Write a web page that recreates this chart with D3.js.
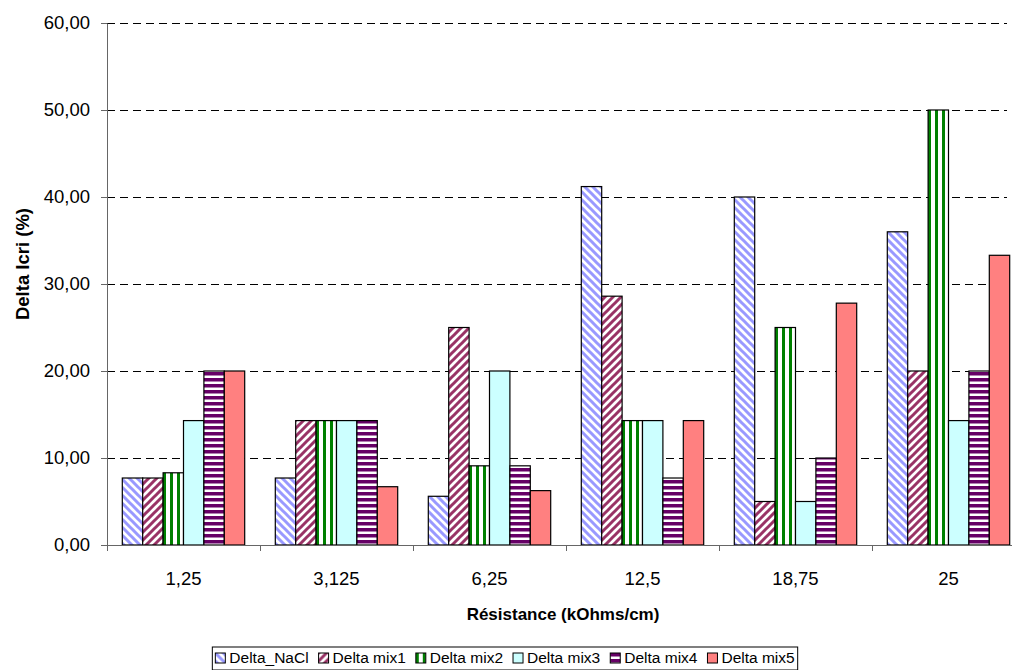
<!DOCTYPE html>
<html>
<head>
<meta charset="utf-8">
<script src="https://cdn.jsdelivr.net/npm/d3@7"></script>
<style>
  html, body { margin: 0; padding: 0; background: #fff; }
  svg { display: block; font-family: "Liberation Sans", Arial, sans-serif; }
</style>
</head>
<body>
<svg id="chart" width="1012" height="670"></svg>
<script>
// ---- data ----
const categories = ["1,25", "3,125", "6,25", "12,5", "18,75", "25"];
const seriesNames = ["Delta_NaCl", "Delta mix1", "Delta mix2", "Delta mix3", "Delta mix4", "Delta mix5"];
const deltaNaCl = [7.7, 7.7, 5.6, 41.2, 40.0, 36.0];
const deltaMix1 = [7.7, 14.3, 25.0, 28.6, 5.0, 20.0];
const deltaMix2 = [8.3, 14.3, 9.1, 14.3, 25.0, 50.0];
const deltaMix3 = [14.3, 14.3, 20.0, 14.3, 5.0, 14.3];
const deltaMix4 = [20.0, 14.3, 9.1, 7.7, 10.0, 20.0];
const deltaMix5 = [20.0, 6.7, 6.25, 14.3, 27.8, 33.3];
const yTicks = [0, 10, 20, 30, 40, 50, 60];
const seriesValues = [deltaNaCl, deltaMix1, deltaMix2, deltaMix3, deltaMix4, deltaMix5];

// ---- layout ----
const svg = d3.select("#chart");
const x0Left = 107, bandStep = 153;
const yBottom = 545, yTop = 23;
const gridRight = 1007;

const x0 = d3.scaleBand().domain(categories)
  .range([x0Left, x0Left + bandStep * categories.length]).padding(0);
const x1 = d3.scaleBand().domain(seriesNames)
  .range([0, x0.bandwidth()]).paddingInner(0).paddingOuter(0.75);
const y = d3.scaleLinear().domain([0, 60]).range([yBottom, yTop]);

// ---- patterns ----
const defs = svg.append("defs");
function diag(id, color, dir) {
  const p = defs.append("pattern").attr("id", id)
    .attr("patternUnits", "userSpaceOnUse").attr("width", 8).attr("height", 8);
  p.append("rect").attr("width", 8).attr("height", 8).attr("fill", "#fff");
  const d = dir === "down"
    ? "M-2,-2 L10,10 M-2,6 L2,10 M6,-2 L10,2"
    : "M-2,10 L10,-2 M-2,2 L2,-2 M6,10 L10,6";
  p.append("path").attr("d", d).attr("stroke", color).attr("stroke-width", 3);
}
diag("pNaCl", "#9999FF", "down");
diag("pMix1", "#993366", "up");
(function () {
  const p = defs.append("pattern").attr("id", "pMix2")
    .attr("patternUnits", "userSpaceOnUse").attr("width", 7).attr("height", 7);
  p.append("rect").attr("width", 7).attr("height", 7).attr("fill", "#fff");
  p.append("rect").attr("x", 0).attr("width", 3).attr("height", 7).attr("fill", "#008000");
})();
(function () {
  const p = defs.append("pattern").attr("id", "pMix4")
    .attr("patternUnits", "userSpaceOnUse").attr("width", 6).attr("height", 6);
  p.append("rect").attr("width", 6).attr("height", 6).attr("fill", "#fff");
  p.append("rect").attr("y", 0).attr("width", 6).attr("height", 3.5).attr("fill", "#660066");
})();
const fills = ["url(#pNaCl)", "url(#pMix1)", "url(#pMix2)", "#CCFFFF", "url(#pMix4)", "#FF8080"];

// ---- gridlines ----
svg.append("g").selectAll("line").data(yTicks.filter(t => t > 0)).join("line")
  .attr("x1", x0Left).attr("x2", gridRight)
  .attr("y1", d => y(d)).attr("y2", d => y(d))
  .attr("stroke", "#000").attr("stroke-width", 1).attr("stroke-dasharray", "8,5")
  .attr("shape-rendering", "crispEdges");

// ---- bars ----
const groups = svg.append("g").selectAll("g").data(categories).join("g")
  .attr("transform", c => `translate(${x0(c)},0)`);
groups.selectAll("rect").data((c, ci) => seriesNames.map((s, si) => ({ s, si, v: seriesValues[si][ci] })))
  .join("rect")
  .attr("x", d => x1(d.s))
  .attr("y", d => y(d.v))
  .attr("width", x1.bandwidth())
  .attr("height", d => y(0) - y(d.v))
  .attr("fill", d => fills[d.si])
  .attr("stroke", "#000").attr("stroke-width", 1.2);

// ---- axes ----
const fmt = v => d3.format(".2f")(v).replace(".", ",");
const yAxis = svg.append("g").attr("transform", `translate(${x0Left},0)`)
  .call(d3.axisLeft(y).tickValues(yTicks).tickFormat(fmt).tickSizeInner(6).tickSizeOuter(0).tickPadding(11));
yAxis.select(".domain").attr("stroke", "#666");
yAxis.selectAll(".tick line").attr("stroke", "#666");
yAxis.selectAll("text").attr("font-size", 18.5).attr("fill", "#000")
  .attr("font-family", "Liberation Sans, Arial, sans-serif");

// x axis line + ticks at band boundaries
const xAxisG = svg.append("g");
xAxisG.append("line").attr("x1", x0Left).attr("x2", 1012).attr("y1", yBottom).attr("y2", yBottom)
  .attr("stroke", "#666").attr("stroke-width", 1).attr("shape-rendering", "crispEdges");
xAxisG.selectAll("line.tk").data(categories).join("line").attr("class", "tk")
  .attr("x1", c => x0(c)).attr("x2", c => x0(c))
  .attr("y1", yBottom).attr("y2", yBottom + 6)
  .attr("stroke", "#666").attr("shape-rendering", "crispEdges");
xAxisG.selectAll("text").data(categories).join("text")
  .attr("x", c => x0(c) + x0.bandwidth() / 2).attr("y", 585)
  .attr("text-anchor", "middle").attr("font-size", 18.5).attr("fill", "#000")
  .text(c => c);

// axis titles
svg.append("text").attr("x", 563).attr("y", 620).attr("text-anchor", "middle")
  .attr("font-size", 17).attr("font-weight", "bold").text("Résistance (kOhms/cm)");
svg.append("text").attr("transform", "translate(29,264) rotate(-90)").attr("text-anchor", "middle")
  .attr("font-size", 18.5).attr("font-weight", "bold").text("Delta Icri (%)");

// ---- legend ----
const leg = svg.append("g");
const legFont = 15.5, boxSize = 10, boxGap = 4, itemGap = 10;
const items = leg.selectAll("g").data(seriesNames).join("g");
items.append("rect").attr("width", boxSize).attr("height", boxSize)
  .attr("fill", (d, i) => fills[i]).attr("stroke", "#000").attr("stroke-width", 1);
items.append("text").attr("x", boxSize + boxGap).attr("y", boxSize)
  .attr("font-size", legFont).text(d => d);
let cx = 0;
items.each(function () {
  const g = d3.select(this);
  const w = g.select("text").node().getComputedTextLength();
  g.attr("transform", `translate(${cx},0)`);
  cx += boxSize + boxGap + w + itemGap;
});
const totalW = cx - itemGap;
const legCenter = 505, legX = legCenter - totalW / 2;
leg.attr("transform", `translate(${legX},${653})`);
leg.insert("rect", ":first-child").attr("x", -3).attr("y", -6)
  .attr("width", totalW + 6).attr("height", 23)
  .attr("fill", "#fff").attr("stroke", "#000").attr("stroke-width", 1);
</script>
</body>
</html>
